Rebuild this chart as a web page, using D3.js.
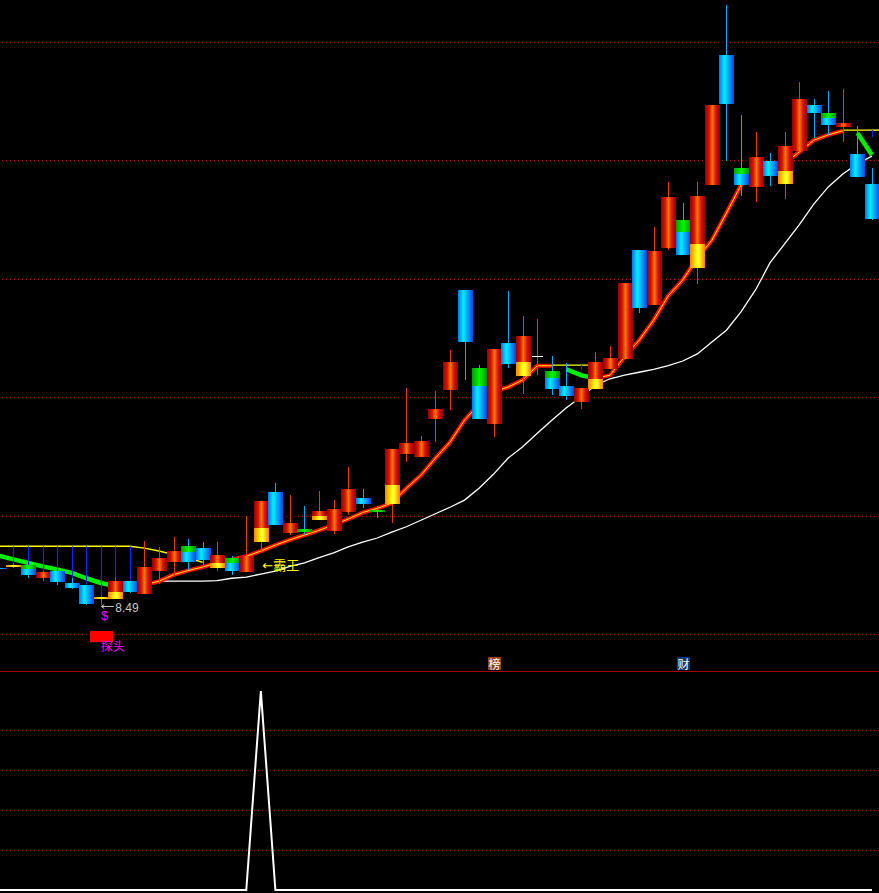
<!DOCTYPE html>
<html><head><meta charset="utf-8">
<script src="https://cdn.jsdelivr.net/npm/d3@7"></script>
<style>html,body{margin:0;padding:0;background:#000;overflow:hidden}svg{display:block}</style>
</head><body><svg id="c" width="879" height="893"></svg>
<script>
// ---------- data ----------
const bars = d3.range(61); // trading-day index
const openP  = [9.13,9.14,9.17,8.95,9.07,8.87,8.84,8.60,8.60,8.90,
                8.68,9.07,9.22,9.49,9.46,9.12,9.29,9.06,9.56,10.41,
                9.71,9.78,9.93,9.75,10.07,10.31,10.10,10.20,11.05,11.00,
                11.64,12.13,13.82,12.50,11.56,12.92,12.37,12.70,12.45,12.20,
                11.93,12.15,12.48,12.65,14.50,13.57,14.53,15.00,14.19,15.59,
                17.79,15.88,15.56,16.00,15.61,16.17,16.94,16.81,16.57,16.12,
                15.61];
const closeP = [9.10,9.18,9.01,9.06,8.89,8.79,8.52,8.64,8.90,8.72,
                9.14,9.29,9.41,9.22,9.26,9.34,9.07,9.33,10.26,9.85,
                9.88,9.73,10.09,10.12,10.46,10.20,10.08,11.13,11.23,11.27,
                11.81,12.60,12.94,11.64,12.82,12.57,13.04,12.70,12.15,12.03,
                12.16,12.60,12.67,13.94,13.52,14.48,15.39,14.41,15.41,16.94,
                16.96,15.59,16.07,15.75,16.25,17.05,16.81,16.61,16.64,15.73,
                15.02];
const highP  = [9.14,9.19,9.17,9.07,9.07,8.96,8.84,8.64,8.97,8.90,
                9.58,9.48,9.65,9.61,9.56,9.56,9.33,10.00,10.26,10.56,
                10.36,10.17,10.42,10.27,10.83,10.46,10.17,11.13,12.16,11.35,
                12.11,12.81,13.82,12.55,12.82,13.80,13.38,13.33,12.70,12.59,
                12.16,12.77,12.87,13.94,14.50,14.88,15.64,15.29,15.64,16.94,
                18.63,16.78,16.49,16.13,16.49,17.33,17.05,17.18,17.21,16.59,
                15.88];
const lowP   = [9.09,9.12,8.96,8.91,8.84,8.77,8.50,8.49,8.60,8.70,
                8.68,8.85,9.01,9.09,9.17,9.07,9.01,9.06,9.41,9.85,
                9.68,9.68,9.93,9.70,10.02,10.14,9.97,9.88,10.91,11.00,
                11.25,11.79,12.30,11.64,11.34,12.50,12.06,12.38,12.05,11.96,
                11.81,12.15,12.48,12.65,13.43,13.57,14.50,14.41,13.92,15.59,
                16.00,15.41,15.31,15.58,15.36,16.17,16.39,16.44,16.32,15.73,
                15.00];
// highlighted part of the body: yellow from open upward (rising bars), green from open downward (falling bars)
const markP  = [null,9.18,9.11,null,null,null,null,8.64,8.72,null,
                null,null,null,9.39,null,9.21,9.21,null,9.80,null,
                null,9.73,10.00,null,null,null,10.08,10.53,null,null,
                null,null,null,12.20,null,null,12.60,null,12.33,null,
                null,12.32,null,null,null,null,null,14.80,14.60,null,
                null,15.78,null,null,15.83,null,null,16.72,null,null,
                null];
// short moving average (thick line) and its trend state (1 up/red, -1 down/green, 0 break)
const maShort = [9.33,9.27,9.21,9.15,9.10,9.04,8.95,8.87,8.82,8.82,
                 8.84,8.90,9.01,9.08,9.14,9.21,9.26,9.32,9.41,9.51,
                 9.60,9.68,9.76,9.85,9.95,10.06,10.13,10.22,10.47,10.69,
                 10.98,11.25,11.62,11.89,12.10,12.18,12.30,12.54,12.54,12.48,
                 12.38,12.33,12.38,12.69,12.97,13.31,13.72,13.99,14.36,14.66,
                 15.12,15.59,15.85,15.91,15.96,16.15,16.35,16.44,16.51,16.47,
                 16.10];
const trend = [0,-1,-1,-1,-1,-1,-1,-1,-1,-1,
               1,1,1,1,1,1,1,1,1,1,
               1,1,1,1,1,1,1,1,1,1,
               1,1,1,1,1,1,1,1,1,0,
               -1,-1,1,1,1,1,1,1,1,1,
               1,1,1,1,1,1,1,1,1,0,
               -1];
// long moving average (white)
const maLong = [null,null,null,null,null,null,null,null,null,null,
                null,8.90,8.90,8.90,8.90,8.91,8.95,8.97,9.02,9.07,
                9.15,9.21,9.30,9.38,9.48,9.56,9.63,9.73,9.82,9.93,
                10.04,10.15,10.27,10.47,10.71,10.98,11.17,11.40,11.62,11.83,
                12.01,12.21,12.32,12.38,12.43,12.48,12.54,12.62,12.74,12.94,
                13.14,13.45,13.82,14.28,14.60,14.92,15.27,15.56,15.78,15.95,
                16.08];
// yellow pressure line
const pressure = [9.49,9.49,9.49,9.49,9.49,9.49,9.49,9.49,9.49,9.49,
                  9.46,9.41,9.35,9.29,9.22,null,null,null,null,null,
                  null,null,null,null,null,null,null,null,null,null,
                  null,null,null,null,null,null,null,null,12.55,12.55,
                  12.55,12.55,null,null,null,null,null,null,null,null,
                  null,null,null,null,null,null,null,null,16.52,16.52,
                  16.52];
// blue sticks hanging from the pressure line
const stickEnd = [null,9.17,9.17,9.07,9.07,8.96,8.84,8.63,8.97,8.90,
                  null,null,null,null,null,null,null,null,null,null,
                  null,null,null,null,null,null,null,null,null,null,
                  null,null,null,null,null,null,null,null,null,null,
                  12.47,null,null,null,null,null,null,null,null,null,
                  null,null,null,null,null,null,null,null,null,null,
                  16.40];
// lower indicator
const signal = [0,0,0,0,0,0,0,0,0,0,
                0,0,0,0,0,0,0,0,100,0,
                0,0,0,0,0,0,0,0,0,0,
                0,0,0,0,0,0,0,0,0,0,
                0,0,0,0,0,0,0,0,0,0,
                0,0,0,0,0,0,0,0,0,0,
                0];
const priceGrid = [8,10,12,14,16,18];
const signalGrid = [20,40,60,80];
const lowIndex = 7;        // 8.49 low, "$" and 探头
const bawangIndex = 18, bawangPrice = 9.19;
const tanTouTop = 8.06, tanTouBottom = 7.87, tanTouText = 7.72;
const badges = [{i:34, t:"榜", fill:"#8a4610"}, {i:47, t:"财", fill:"#0f3a6c"}];

// ---------- scales ----------
const W = 879;
const svg = d3.select("#c");
const x = d3.scaleBand().domain(bars).range([-8.33, 879.2]).padding(0);
const cx = i => x(i) + x.bandwidth() / 2;
const y = d3.scaleLinear().domain([8, 18]).range([634.5, 42.5]);
const y2 = d3.scaleLinear().domain([0, 100]).range([890, 691]);

// ---------- gradients ----------
const defs = svg.append("defs");
function grad(id, stops) {
  const g = defs.append("linearGradient").attr("id", id).attr("x1", 0).attr("x2", 1).attr("y1", 0).attr("y2", 0);
  stops.forEach(([o, c]) => g.append("stop").attr("offset", o).attr("stop-color", c));
}
grad("gRed", [[0, "#960000"], [0.28, "#d81400"], [0.5, "#ff7800"], [0.72, "#d81400"], [1, "#960000"]]);
grad("gBlue", [[0, "#0070ff"], [0.35, "#00f0ff"], [1, "#0044e8"]]);
grad("gYel", [[0, "#ff8000"], [0.45, "#ffff10"], [0.6, "#ffff30"], [1, "#ff7c00"]]);
grad("gGrn", [[0, "#00a000"], [0.5, "#00f800"], [1, "#009000"]]);

// ---------- grid ----------
svg.append("g").selectAll("line").data(priceGrid).join("line")
  .attr("x1", 2).attr("x2", W).attr("y1", d => y(d)).attr("y2", d => y(d))
  .attr("stroke", "#b80000").attr("stroke-width", 1).attr("stroke-dasharray", "1,3")
  .attr("shape-rendering", "crispEdges");
svg.append("line").attr("x1", 0).attr("x2", W).attr("y1", 671.5).attr("y2", 671.5)
  .attr("stroke", "#a80000").attr("stroke-width", 1.2);
svg.append("g").selectAll("line").data(signalGrid).join("line")
  .attr("x1", 2).attr("x2", W).attr("y1", d => y2(d)).attr("y2", d => y2(d))
  .attr("stroke", "#b80000").attr("stroke-width", 1).attr("stroke-dasharray", "1,3")
  .attr("shape-rendering", "crispEdges");

// ---------- lines under the candles ----------
const lineOf = (arr, sc) => d3.line().defined(i => arr[i] != null).x(cx).y(i => sc(arr[i]));
svg.append("path").attr("d", lineOf(maLong, y)(bars)).attr("fill", "none")
  .attr("stroke", "#ffffff").attr("stroke-width", 1.3);
svg.append("path").attr("d", lineOf(pressure, y)(bars)).attr("fill", "none")
  .attr("stroke", "#ffff00").attr("stroke-width", 1.4);
// the pressure line still running at the last bar continues to the right edge
const lastI = bars[bars.length - 1];
if (pressure[lastI] != null) {
  svg.append("line").attr("x1", cx(lastI)).attr("x2", W)
    .attr("y1", y(pressure[lastI])).attr("y2", y(pressure[lastI]))
    .attr("stroke", "#ffff00").attr("stroke-width", 1.4);
}

// trend-coloured thick line
const runs = [];
let cur = null;
for (let i = 1; i < trend.length; i++) {
  const s = trend[i];
  if (s === 0) { cur = null; continue; }
  if (cur && cur.s === s) cur.to = i; else { cur = { s, from: i - 1, to: i }; runs.push(cur); }
}
const tl = d3.line().x(cx).y(i => y(maShort[i]));
runs.forEach(r => {
  const pts = d3.range(r.from, r.to + 1);
  if (r.s < 0) {
    svg.append("path").attr("d", tl(pts)).attr("fill", "none").attr("stroke", "#00ee00")
      .attr("stroke-width", 4.5).attr("stroke-linejoin", "round");
  } else {
    svg.append("path").attr("d", tl(pts)).attr("fill", "none").attr("stroke", "#ff0a00")
      .attr("stroke-width", 4.2).attr("stroke-linejoin", "round");
    svg.append("path").attr("d", tl(pts)).attr("fill", "none").attr("stroke", "#ffee00")
      .attr("stroke-width", 1);
  }
});

// blue sticks
svg.append("g").selectAll("line").data(bars.filter(i => stickEnd[i] != null)).join("line")
  .attr("x1", i => Math.round(cx(i)) + 0.5).attr("x2", i => Math.round(cx(i)) + 0.5)
  .attr("y1", i => y(pressure[i])).attr("y2", i => y(stickEnd[i]))
  .attr("stroke", "#0a28ff").attr("stroke-width", 1.2);

// ---------- candles ----------
const cg = svg.append("g").attr("shape-rendering", "crispEdges");
bars.forEach(i => {
  const o = openP[i], c = closeP[i], h = highP[i], l = lowP[i], m = markP[i];
  const up = c > o, flat = c === o;
  const wx = Math.round(cx(i)) + 0.5;
  cg.append("line").attr("x1", wx).attr("x2", wx).attr("y1", y(h)).attr("y2", y(l))
    .attr("stroke", up || flat ? "#e83a00" : "#10a8ff").attr("stroke-width", 1);
  const bx = Math.round(cx(i) - 7), bw = 15;
  if (flat) {
    cg.append("rect").attr("x", bx + 2).attr("y", Math.round(y(o))).attr("width", bw - 4).attr("height", 1)
      .attr("fill", "#ffffff");
    return;
  }
  const top = y(Math.max(o, c)), bot = y(Math.min(o, c));
  cg.append("rect").attr("x", bx).attr("y", top).attr("width", bw).attr("height", Math.max(1.5, bot - top))
    .attr("fill", up ? "url(#gRed)" : "url(#gBlue)");
  if (m != null) {
    const a = y(o), b = y(m);
    const t2 = Math.min(a, b), h2 = Math.max(1.5, Math.abs(a - b));
    cg.append("rect").attr("x", bx).attr("y", t2).attr("width", bw).attr("height", h2)
      .attr("fill", up ? "url(#gYel)" : "url(#gGrn)");
  }
});

// ---------- annotations ----------
const lx = cx(lowIndex), ly = y(lowP[lowIndex]);
// arrow pointing at the low
svg.append("path")
  .attr("d", `M${lx + 0.5},${ly + 1} H${lx + 13} M${lx + 3.5},${ly - 1} L${lx + 0.5},${ly + 1} L${lx + 3.5},${ly + 3}`)
  .attr("fill", "none").attr("stroke", "#c8c8c8").attr("stroke-width", 1);
svg.append("text").attr("x", lx + 14.5).attr("y", ly + 6.5)
  .attr("font-family", "Liberation Sans, DejaVu Sans, sans-serif").attr("font-size", 12)
  .attr("fill", "#c8c8c8").text(d3.format(".2f")(lowP[lowIndex]));
svg.append("text").attr("x", lx + 0.5).attr("y", ly + 14.5)
  .attr("font-family", "Liberation Sans, DejaVu Sans, sans-serif").attr("font-size", 12)
  .attr("fill", "#ff00ff").text("$");
svg.append("rect").attr("x", Math.round(lx - 11)).attr("y", y(tanTouTop))
  .attr("width", 23).attr("height", y(tanTouBottom) - y(tanTouTop)).attr("fill", "#ff0000");
svg.append("text").attr("x", lx).attr("y", y(tanTouText))
  .attr("font-family", "Noto Sans CJK SC, sans-serif").attr("font-size", 12)
  .attr("fill", "#ff00ff").text("探头");
svg.append("text").attr("x", cx(bawangIndex) + 1.5).attr("y", y(bawangPrice) + 5.5)
  .attr("font-family", "DejaVu Sans, Noto Sans CJK SC, sans-serif").attr("font-size", 13)
  .attr("fill", "#ffff00").text("←霸王");

const bg = svg.append("g").selectAll("g").data(badges).join("g");
bg.append("rect").attr("x", d => Math.round(cx(d.i) - 6)).attr("y", 657).attr("width", 13).attr("height", 13)
  .attr("fill", d => d.fill);
bg.append("text").attr("x", d => Math.round(cx(d.i) - 6) + 6.5).attr("y", 668.5).attr("text-anchor", "middle")
  .attr("font-family", "Noto Sans CJK SC, sans-serif").attr("font-size", 12).attr("fill", "#ffffff")
  .text(d => d.t);

// ---------- lower indicator ----------
svg.append("path").attr("d", d3.line().x(cx).y(i => y2(signal[i]))(bars))
  .attr("fill", "none").attr("stroke", "#ffffff").attr("stroke-width", 2);
</script>
</body></html>
